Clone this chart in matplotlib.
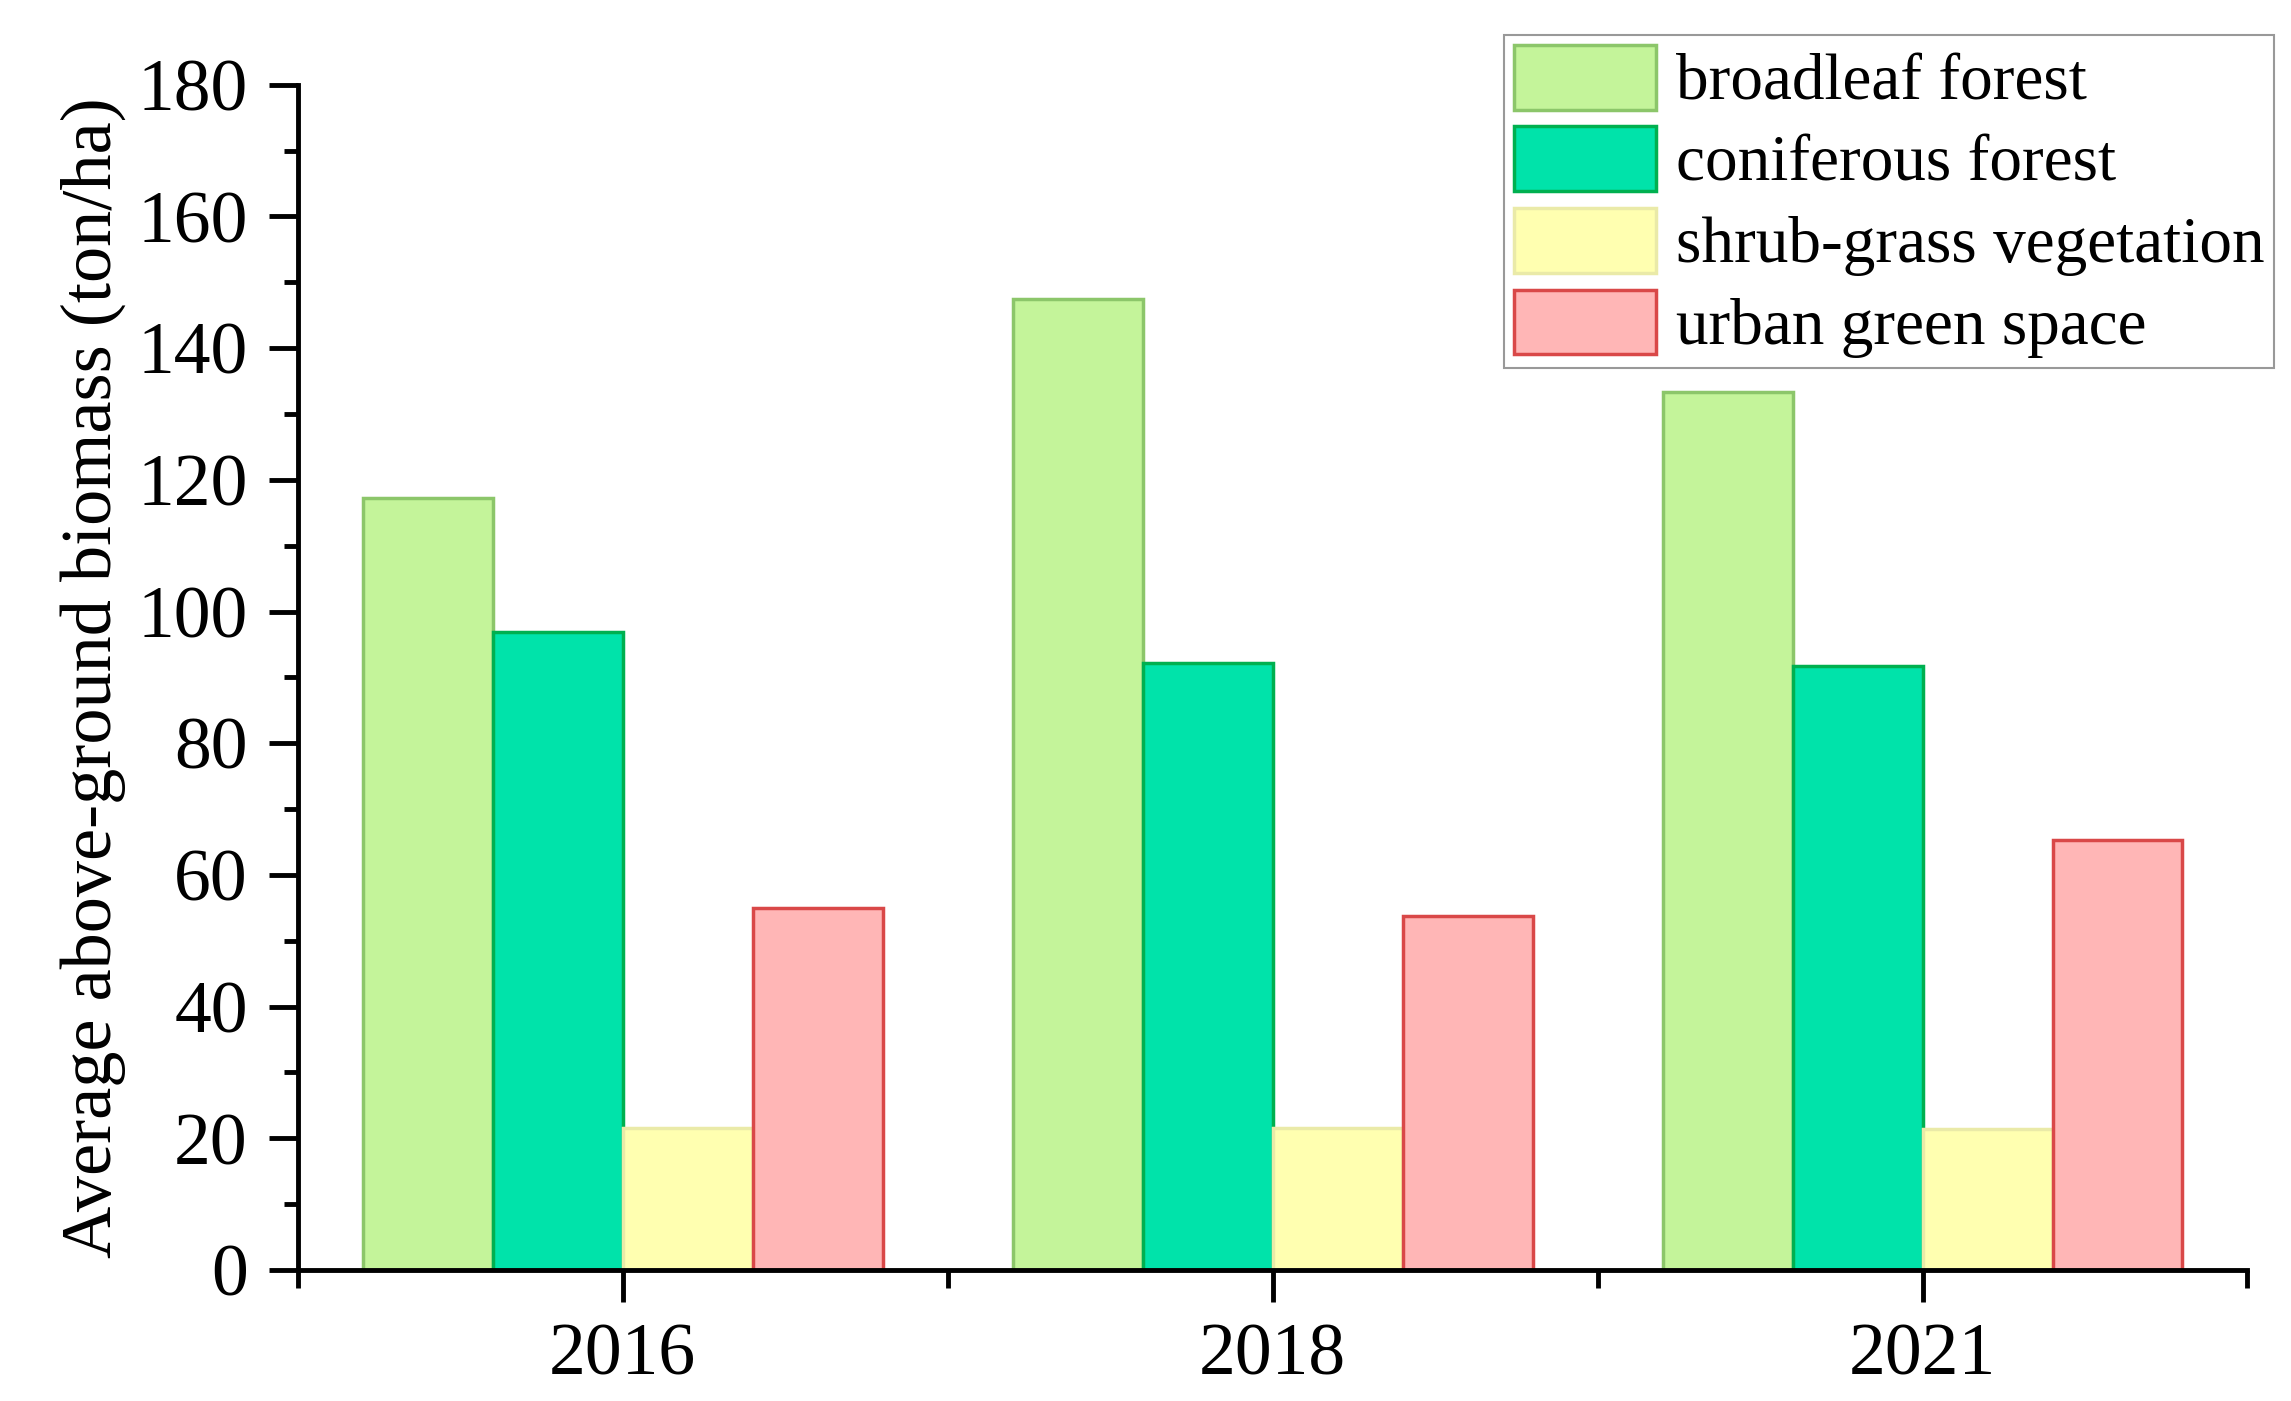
import numpy as np
import matplotlib
matplotlib.use("Agg")
import matplotlib.pyplot as plt
from matplotlib.ticker import MultipleLocator, FixedLocator

OUT = "out.png"

# ── data ─────────────────────────────────────────────────────────────────────
years      = ["2016", "2018", "2021"]
broadleaf  = [117.2, 147.5, 133.4]
coniferous = [96.9, 92.2, 91.8]
shrub      = [21.6, 21.6, 21.4]
urban      = [55.0, 53.7, 65.3]

series = [
    ("broadleaf forest",       broadleaf,  "#C4F49A", "#8CC66A"),
    ("coniferous forest",      coniferous, "#00E3AA", "#00B050"),
    ("shrub-grass vegetation", shrub,      "#FFFFB0", "#EAEAA8"),
    ("urban green space",      urban,      "#FFB6B6", "#D94848"),
]

plt.rcParams["font.family"] = ["Liberation Serif", "DejaVu Serif"]

fig = plt.figure(figsize=(22.91, 14.01), dpi=100)
ax = fig.add_axes([0.130, 0.0935, 0.851, 0.846])

x = np.arange(len(years))
w = 0.2
for i, (name, vals, fc, ec) in enumerate(series):
    ax.bar(x + (i - 1.5) * w, vals, width=w, color=fc, edgecolor=ec,
           linewidth=2.5, label=name)

ax.set_xlim(-0.5, 2.5)
ax.set_ylim(0, 180)
ax.set_xticks(x)
ax.set_xticklabels(years)
ax.xaxis.set_minor_locator(FixedLocator([-0.5, 0.5, 1.5, 2.5]))
ax.yaxis.set_major_locator(MultipleLocator(20))
ax.yaxis.set_minor_locator(MultipleLocator(10))

for s in ("top", "right"):
    ax.spines[s].set_visible(False)
for s in ("left", "bottom"):
    ax.spines[s].set_linewidth(3.5)

ax.tick_params(axis="both", which="major", width=3.5, labelsize=53, pad=15)
ax.tick_params(axis="y", which="major", length=21)
ax.tick_params(axis="y", which="minor", length=10, width=3.5)
ax.tick_params(axis="x", which="major", length=23)
ax.tick_params(axis="x", which="minor", length=13, width=3.5)

ax.set_ylabel("Average above-ground biomass (ton/ha)", fontsize=52, labelpad=8)

leg = ax.legend(loc="upper right", bbox_to_anchor=(0.9926, 0.975),
                bbox_transform=fig.transFigure, fontsize=47, frameon=True,
                fancybox=False, edgecolor="#808080", handlelength=2.18,
                handleheight=1.15, labelspacing=0.2, handletextpad=0.3,
                borderpad=0.15, borderaxespad=0)
leg.get_frame().set_linewidth(1.5)

plt.savefig(OUT, dpi=100)
print(f"Saved → {OUT}")
